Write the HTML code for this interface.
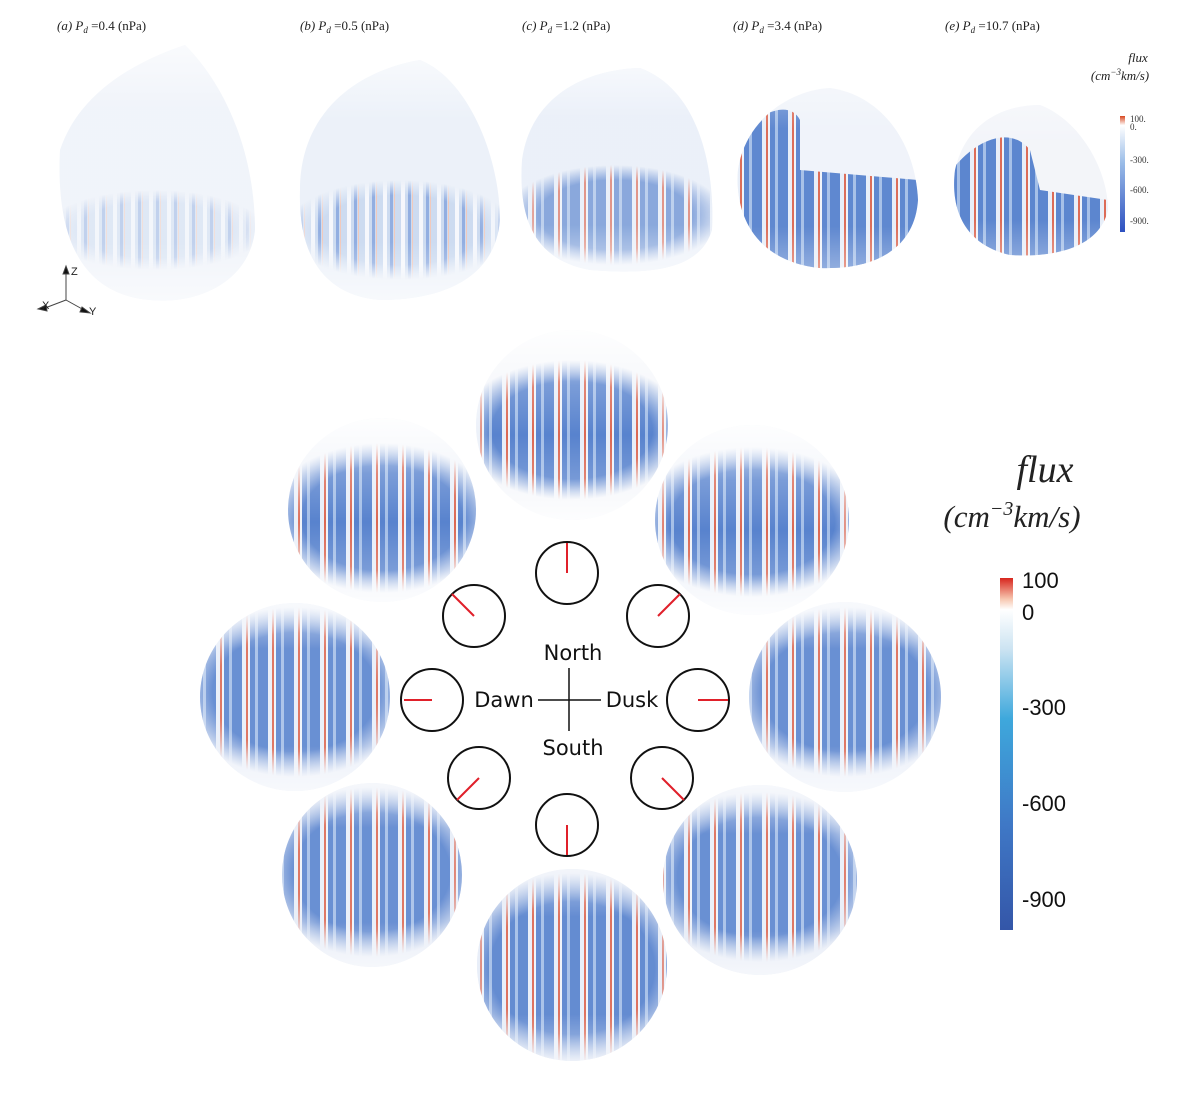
<!DOCTYPE html>
<html><head><meta charset="utf-8"><style>
html,body{margin:0;padding:0;background:#fff;}
svg{display:block;}
.lab{font-family:"Liberation Serif",serif;font-size:13px;fill:#222;}
.cmp{font-family:"DejaVu Sans","Liberation Sans",sans-serif;font-size:21px;fill:#111;}
.cb{font-family:"Liberation Sans",sans-serif;font-size:22px;fill:#111;}
</style></head><body>
<svg width="1191" height="1093" viewBox="0 0 1191 1093" xmlns="http://www.w3.org/2000/svg">
<defs>
<pattern id="st" width="26" height="200" patternUnits="userSpaceOnUse">
<rect width="26" height="200" fill="#4f7ccb"/>
<rect x="8" width="4" height="200" fill="#e6edf8"/>
<rect x="12" width="2" height="200" fill="#d9604a"/>
<rect x="14" width="2" height="200" fill="#eef3fa"/>
<rect x="21" width="3" height="200" fill="#9fbbe6"/>
</pattern>
<pattern id="st2" width="18" height="200" patternUnits="userSpaceOnUse">
<rect width="18" height="200" fill="#c4d5ee"/>
<rect x="5" width="4" height="200" fill="#f4f6fb"/>
<rect x="12" width="3" height="200" fill="#7fa0dc"/>
<rect x="16" width="1" height="200" fill="#efc0b0"/>
</pattern>
<radialGradient id="band" cx="0.5" cy="0.5" r="0.5">
<stop offset="0.7" stop-color="#fff" stop-opacity="1"/>
<stop offset="1" stop-color="#fff" stop-opacity="0"/>
</radialGradient>
<mask id="m1" maskContentUnits="objectBoundingBox"><rect width="1" height="1" fill="url(#band)"/></mask>
<linearGradient id="vf" x1="0" y1="0" x2="0" y2="1">
<stop offset="0" stop-color="#fff" stop-opacity="0.95"/>
<stop offset="0.3" stop-color="#fff" stop-opacity="0.25"/>
<stop offset="0.55" stop-color="#fff" stop-opacity="0.05"/>
<stop offset="0.8" stop-color="#fff" stop-opacity="0.25"/>
<stop offset="1" stop-color="#fff" stop-opacity="0.9"/>
</linearGradient>
<linearGradient id="vf2" x1="0" y1="0" x2="0" y2="1">
<stop offset="0" stop-color="#fff" stop-opacity="0.7"/>
<stop offset="0.25" stop-color="#fff" stop-opacity="0.15"/>
<stop offset="0.75" stop-color="#fff" stop-opacity="0.15"/>
<stop offset="1" stop-color="#fff" stop-opacity="0.7"/>
</linearGradient>
<linearGradient id="cbar" x1="0" y1="0" x2="0" y2="1">
<stop offset="0" stop-color="#d7261e"/>
<stop offset="0.06" stop-color="#f7c7b0"/>
<stop offset="0.09" stop-color="#ffffff"/>
<stop offset="0.2" stop-color="#cde4f2"/>
<stop offset="0.4" stop-color="#3ea8dc"/>
<stop offset="0.7" stop-color="#3f78c6"/>
<stop offset="1" stop-color="#3456a8"/>
</linearGradient>
<linearGradient id="cbar2" x1="0" y1="0" x2="0" y2="1">
<stop offset="0" stop-color="#d7461e"/>
<stop offset="0.08" stop-color="#fff"/>
<stop offset="0.4" stop-color="#9bbde8"/>
<stop offset="1" stop-color="#2d50c0"/>
</linearGradient>
</defs>

<text class="lab" x="57" y="30"><tspan font-style="italic">(a) P</tspan><tspan font-size="9" dy="3" font-style="italic">d</tspan><tspan dy="-3"> =0.4 (nPa)</tspan></text>
<text class="lab" x="300" y="30"><tspan font-style="italic">(b) P</tspan><tspan font-size="9" dy="3" font-style="italic">d</tspan><tspan dy="-3"> =0.5 (nPa)</tspan></text>
<text class="lab" x="522" y="30"><tspan font-style="italic">(c) P</tspan><tspan font-size="9" dy="3" font-style="italic">d</tspan><tspan dy="-3"> =1.2 (nPa)</tspan></text>
<text class="lab" x="733" y="30"><tspan font-style="italic">(d) P</tspan><tspan font-size="9" dy="3" font-style="italic">d</tspan><tspan dy="-3"> =3.4 (nPa)</tspan></text>
<text class="lab" x="945" y="30"><tspan font-style="italic">(e) P</tspan><tspan font-size="9" dy="3" font-style="italic">d</tspan><tspan dy="-3"> =10.7 (nPa)</tspan></text>

<g>
<clipPath id="ca"><path d="M60,150 C80,90 140,60 185,45 C230,90 255,160 255,230 C250,280 200,305 150,300 C90,295 55,250 60,150Z"/></clipPath>
<g clip-path="url(#ca)"><rect x="50" y="40" width="210" height="270" fill="#eef2f9"/><ellipse cx="155" cy="230" rx="110" ry="40" fill="url(#st2)" opacity="0.5" mask="url(#m1)"/><rect x="50" y="40" width="210" height="270" fill="url(#vf2)"/></g>
<clipPath id="cb2"><path d="M300,190 C300,110 360,70 420,60 C470,80 500,160 500,220 C495,280 440,300 380,300 C320,295 298,250 300,190Z"/></clipPath>
<g clip-path="url(#cb2)"><rect x="290" y="55" width="215" height="250" fill="#e9eff8"/><ellipse cx="400" cy="230" rx="115" ry="50" fill="url(#st2)" mask="url(#m1)"/><rect x="290" y="55" width="215" height="250" fill="url(#vf2)"/></g>
<clipPath id="cc"><path d="M522,160 C530,100 580,70 640,68 C700,90 715,170 712,230 C700,270 650,275 590,270 C535,260 518,220 522,160Z"/></clipPath>
<g clip-path="url(#cc)"><rect x="515" y="60" width="205" height="220" fill="#e8eef8"/><ellipse cx="615" cy="215" rx="110" ry="50" fill="url(#st)" opacity="0.75" mask="url(#m1)"/><rect x="515" y="60" width="205" height="220" fill="url(#vf2)"/></g>
<clipPath id="cd"><path d="M738,170 C745,120 790,90 830,88 C880,95 915,140 918,200 C915,245 880,270 820,268 C760,262 734,220 738,170Z"/></clipPath>
<g clip-path="url(#cd)"><rect x="730" y="80" width="195" height="195" fill="#eef2f9"/><path d="M735,140 C760,110 790,100 800,120 L800,170 L918,180 L918,270 L735,270Z" fill="url(#st)"/><rect x="730" y="80" width="195" height="195" fill="url(#vf2)" opacity="0.6"/></g>
<clipPath id="ce"><path d="M955,170 C965,125 1000,105 1040,105 C1080,120 1108,170 1108,210 C1100,245 1060,258 1010,255 C965,245 950,210 955,170Z"/></clipPath>
<g clip-path="url(#ce)"><rect x="945" y="100" width="170" height="160" fill="#f2f4f9"/><path d="M952,170 C975,140 1010,125 1030,150 L1040,190 L1108,200 L1108,260 L952,260Z" fill="url(#st)"/><rect x="945" y="100" width="170" height="160" fill="url(#vf2)" opacity="0.5"/></g>
</g>
<g stroke="#444" stroke-width="1" fill="#111">
<line x1="66" y1="300" x2="66" y2="272"/><line x1="66" y1="300" x2="45" y2="308"/><line x1="66" y1="300" x2="84" y2="310"/>
<polygon points="63,274 66,266 69,274"/><polygon points="46,305 38,309 47,311"/><polygon points="82,307 90,313 80,312"/>
</g>
<text x="71" y="275" font-family="Liberation Sans" font-size="11" fill="#222">Z</text>
<text x="42" y="309" font-family="Liberation Sans" font-size="11" fill="#222">X</text>
<text x="89" y="315" font-family="Liberation Sans" font-size="11" fill="#222">Y</text>

<text x="1138" y="62" font-family="Liberation Serif" font-style="italic" font-size="13" fill="#222" text-anchor="middle">flux</text>
<text x="1120" y="80" font-family="Liberation Serif" font-style="italic" font-size="13" fill="#222" text-anchor="middle">(cm<tspan font-size="9" dy="-5">−3</tspan><tspan dy="5">km/s)</tspan></text>
<rect x="1120" y="116" width="5" height="116" fill="url(#cbar2)"/>
<g font-family="Liberation Serif" font-size="9" fill="#333">
<text x="1130" y="122">100.</text><text x="1130" y="130">0.</text><text x="1130" y="163">-300.</text><text x="1130" y="193">-600.</text><text x="1130" y="224">-900.</text></g>

<g id="spheres">
<clipPath id="s1"><ellipse cx="572" cy="425" rx="96" ry="95"/></clipPath>
<g clip-path="url(#s1)"><rect x="470" y="325" width="200" height="200" fill="#f4f6fa"/><ellipse cx="572" cy="430" rx="115" ry="70" fill="url(#st)" mask="url(#m1)"/><rect x="470" y="325" width="200" height="200" fill="url(#vf)"/></g>
<clipPath id="s2"><ellipse cx="382" cy="510" rx="94" ry="92"/></clipPath>
<g clip-path="url(#s2)"><rect x="285" y="415" width="200" height="195" fill="#f1f4fa"/><ellipse cx="382" cy="518" rx="115" ry="75" fill="url(#st)" mask="url(#m1)"/><rect x="285" y="415" width="200" height="195" fill="url(#vf)"/></g>
<clipPath id="s3"><ellipse cx="752" cy="520" rx="97" ry="95"/></clipPath>
<g clip-path="url(#s3)"><rect x="650" y="420" width="205" height="200" fill="#f1f4fa"/><ellipse cx="752" cy="522" rx="118" ry="75" fill="url(#st)" mask="url(#m1)"/><rect x="650" y="420" width="205" height="200" fill="url(#vf)"/></g>
<clipPath id="s4"><ellipse cx="295" cy="697" rx="95" ry="94"/></clipPath>
<g clip-path="url(#s4)"><rect x="195" y="600" width="200" height="195" fill="#e9eef8"/><ellipse cx="295" cy="692" rx="118" ry="85" fill="url(#st)" mask="url(#m1)"/><rect x="195" y="600" width="200" height="195" fill="url(#vf2)"/></g>
<clipPath id="s5"><ellipse cx="845" cy="697" rx="96" ry="95"/></clipPath>
<g clip-path="url(#s5)"><rect x="745" y="600" width="200" height="195" fill="#e9eef8"/><ellipse cx="845" cy="692" rx="118" ry="85" fill="url(#st)" mask="url(#m1)"/><rect x="745" y="600" width="200" height="195" fill="url(#vf2)"/></g>
<clipPath id="s6"><ellipse cx="372" cy="875" rx="90" ry="92"/></clipPath>
<g clip-path="url(#s6)"><rect x="280" y="780" width="185" height="190" fill="#e3e9f5"/><ellipse cx="372" cy="872" rx="112" ry="85" fill="url(#st)" mask="url(#m1)"/><rect x="280" y="780" width="185" height="190" fill="url(#vf2)"/></g>
<clipPath id="s7"><ellipse cx="760" cy="880" rx="97" ry="95"/></clipPath>
<g clip-path="url(#s7)"><rect x="660" y="785" width="200" height="195" fill="#e3e9f5"/><ellipse cx="760" cy="877" rx="118" ry="85" fill="url(#st)" mask="url(#m1)"/><rect x="660" y="785" width="200" height="195" fill="url(#vf2)"/></g>
<clipPath id="s8"><ellipse cx="572" cy="965" rx="95" ry="96"/></clipPath>
<g clip-path="url(#s8)"><rect x="475" y="868" width="195" height="195" fill="#e3e9f5"/><ellipse cx="572" cy="968" rx="118" ry="95" fill="url(#st)" mask="url(#m1)"/><rect x="475" y="868" width="195" height="195" fill="url(#vf2)" opacity="0.8"/></g>
</g>

<g fill="#fff" stroke="#111" stroke-width="2">
<circle cx="567" cy="573" r="31"/><circle cx="474" cy="616" r="31"/><circle cx="658" cy="616" r="31"/>
<circle cx="432" cy="700" r="31"/><circle cx="698" cy="700" r="31"/>
<circle cx="479" cy="778" r="31"/><circle cx="662" cy="778" r="31"/><circle cx="567" cy="825" r="31"/>
</g>
<g stroke="#e0202a" stroke-width="2">
<line x1="567" y1="573" x2="567" y2="543"/>
<line x1="474" y1="616" x2="452" y2="594"/>
<line x1="658" y1="616" x2="680" y2="594"/>
<line x1="432" y1="700" x2="404" y2="700"/>
<line x1="698" y1="700" x2="728" y2="700"/>
<line x1="479" y1="778" x2="457" y2="800"/>
<line x1="662" y1="778" x2="684" y2="800"/>
<line x1="567" y1="825" x2="567" y2="855"/>
</g>
<g stroke="#111" stroke-width="1.5"><line x1="538" y1="700" x2="601" y2="700"/><line x1="569" y1="668" x2="569" y2="731"/></g>
<text class="cmp" x="573" y="660" text-anchor="middle">North</text>
<text class="cmp" x="573" y="755" text-anchor="middle">South</text>
<text class="cmp" x="504" y="707" text-anchor="middle">Dawn</text>
<text class="cmp" x="632" y="707" text-anchor="middle">Dusk</text>

<text x="1045" y="482" font-family="Liberation Serif" font-style="italic" font-size="38" fill="#222" text-anchor="middle">flux</text>
<text x="1012" y="527" font-family="Liberation Serif" font-style="italic" font-size="31" fill="#222" text-anchor="middle">(cm<tspan font-size="20" dy="-12">−3</tspan><tspan dy="12">km/s)</tspan></text>
<rect x="1000" y="578" width="13" height="352" fill="url(#cbar)"/>
<text class="cb" x="1022" y="588">100</text>
<text class="cb" x="1022" y="620">0</text>
<text class="cb" x="1022" y="715">-300</text>
<text class="cb" x="1022" y="811">-600</text>
<text class="cb" x="1022" y="907">-900</text>
</svg>
</body></html>
